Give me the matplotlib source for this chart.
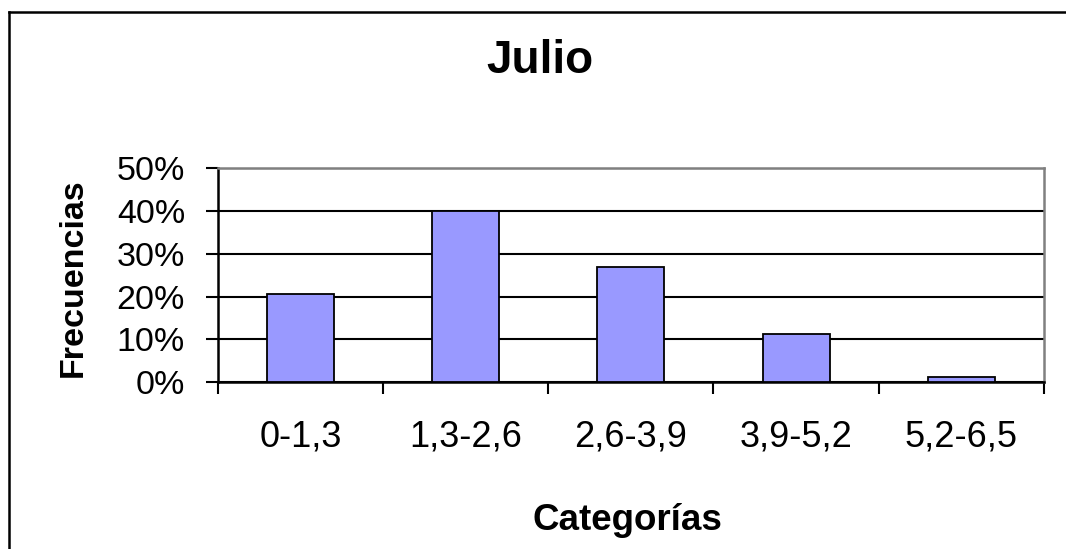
import matplotlib
matplotlib.use("Agg")
import matplotlib.pyplot as plt
from matplotlib.lines import Line2D
from matplotlib.ticker import PercentFormatter, FixedLocator

plt.rcParams["font.family"] = ["Liberation Sans", "DejaVu Sans"]

categorias = ["0-1,3", "1,3-2,6", "2,6-3,9", "3,9-5,2", "5,2-6,5"]
frecuencias = [0.205, 0.40, 0.269, 0.113, 0.012]

W, H = 1066, 549
fig = plt.figure(figsize=(W / 100, H / 100), dpi=100)
fig.patch.set_facecolor("white")

# plot area in pixels: x 217.7..1044, y 168.3..382
ax = fig.add_axes([217.7 / W, 1 - 382 / H, (1044 - 217.7) / W, (382 - 168.3) / H])

xs = list(range(len(categorias)))
ax.bar(xs, frecuencias, width=0.405, color="#9999FF", edgecolor="black",
       linewidth=1.3, zorder=3)

ax.set_xlim(-0.5, len(categorias) - 0.5)
ax.set_ylim(0, 0.5)
ax.set_yticks([0, 0.1, 0.2, 0.3, 0.4, 0.5])
ax.yaxis.set_major_formatter(PercentFormatter(1.0, decimals=0))
ax.set_axisbelow(True)
ax.yaxis.grid(True, color="black", lw=1.5, zorder=1)

# boundaries as major ticks, labels on minor ticks at the centres
ax.xaxis.set_major_locator(FixedLocator([x - 0.5 for x in range(len(categorias) + 1)]))
ax.xaxis.set_minor_locator(FixedLocator(xs))
ax.set_xticklabels([], minor=False)
ax.set_xticklabels(categorias, minor=True)
ax.tick_params(axis="x", which="major", direction="out", length=8.5, width=1.5,
               color="black")
ax.tick_params(axis="x", which="minor", length=0, pad=27, labelsize=26)
ax.tick_params(axis="y", direction="out", length=8.5, width=1.5, pad=15,
               labelsize=24.5)

for side in ("left", "bottom"):
    ax.spines[side].set_color("black")
    ax.spines[side].set_linewidth(1.8)
for side in ("top", "right"):
    ax.spines[side].set_color("#808080")
    ax.spines[side].set_linewidth(1.8)

fig.text(540 / W, 1 - 61 / H, "Julio", ha="center", va="center",
         fontsize=33, fontweight="bold")
fig.text(73 / W, 1 - 278 / H, "Frecuencias", ha="center", va="center",
         rotation=90, fontsize=24.5, fontweight="bold")
fig.text(627 / W, 1 - 530 / H, "Categorías", ha="center", va="baseline",
         fontsize=26.5, fontweight="bold")

# outer chart border (only left and top edges fall inside the picture)
fig.add_artist(Line2D([9 / W, 9 / W], [-0.05, 1 - 12 / H], transform=fig.transFigure,
                      color="black", lw=1.8))
fig.add_artist(Line2D([9 / W, 1.05], [1 - 12 / H, 1 - 12 / H], transform=fig.transFigure,
                      color="black", lw=1.8))

fig.savefig("out.png", dpi=100)
